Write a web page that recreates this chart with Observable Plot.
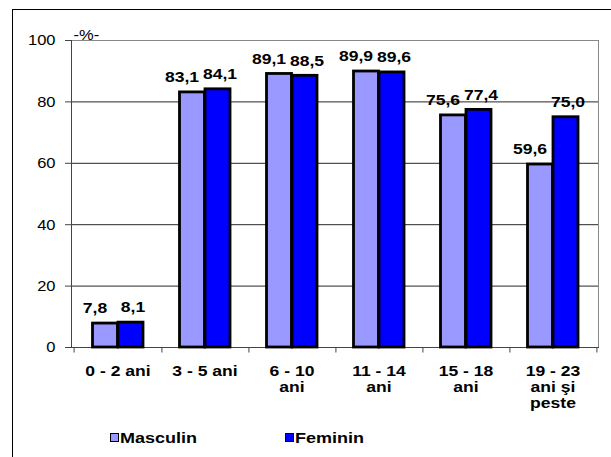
<!DOCTYPE html>
<html><head><meta charset="utf-8">
<script src="https://cdn.jsdelivr.net/npm/d3@7"></script>
<script src="https://cdn.jsdelivr.net/npm/@observablehq/plot@0.6"></script>
<style>
body{margin:0;background:#fff;font-family:"Liberation Sans",Arial,sans-serif;}
#wrap{position:relative;width:611px;height:457px;overflow:hidden;background:#fff;}
#border{position:absolute;left:12px;top:9px;width:640px;height:500px;border:1px solid #000;box-sizing:border-box;z-index:5;pointer-events:none;}
#chart{position:absolute;left:0;top:0;}
.leg{position:absolute;top:429px;font-weight:bold;font-size:15px;line-height:17px;transform:scaleX(1.2);transform-origin:left center;white-space:nowrap;}
.sw{position:absolute;top:433px;width:9px;height:9px;border:1px solid #000;box-sizing:border-box;}
</style></head>
<body>
<div id="wrap">
  <div id="chart"></div>
  <div class="sw" style="left:110px;background:#9999FF"></div>
  <div class="leg" style="left:120px">Masculin</div>
  <div class="sw" style="left:285px;background:#0000FF"></div>
  <div class="leg" style="left:295px">Feminin</div>
  <div id="border"></div>
</div>
<script>
const categories = ["0 - 2 ani", "3 - 5 ani", "6 - 10 ani", "11 - 14 ani", "15 - 18 ani", "19 - 23 ani şi peste"];
const tickLabels = ["0 - 2 ani", "3 - 5 ani", "6 - 10\nani", "11 - 14\nani", "15 - 18\nani", "19 - 23\nani şi\npeste"];
const masculin = [7.8, 83.1, 89.1, 89.9, 75.6, 59.6];
const feminin = [8.1, 84.1, 88.5, 89.6, 77.4, 75.0];
const yTicks = [0, 20, 40, 60, 80, 100];

const masData = categories.map((c, i) => ({cat: c, value: masculin[i]}));
const femData = categories.map((c, i) => ({cat: c, value: feminin[i]}));
const fmt = v => v.toFixed(1).replace(".", ",");

const W = 611, H = 420, ML = 71, MR = 13, MT = 40, MB = 73;
const bw = (W - ML - MR) / categories.length;

const chart = Plot.plot({
  width: W, height: H,
  marginLeft: ML, marginRight: MR, marginTop: MT, marginBottom: MB,
  style: {fontFamily: "'Liberation Sans', Arial, sans-serif", fontSize: "15px", color: "#000", background: "transparent"},
  x: {domain: categories, padding: 0, label: null},
  y: {domain: [0, 100], label: null},
  marks: [
    Plot.gridY([20, 40, 60, 80], {stroke: "#000", strokeOpacity: 0.85}),
    Plot.frame({stroke: "#888", strokeOpacity: 1}),
    Plot.frame({anchor: "left", stroke: "#444"}),
    Plot.frame({anchor: "bottom", stroke: "#444"}),
    Plot.ruleX(categories, {x: d => d, dx: bw / 2, y1: 0, y2: -1.8, stroke: "#444"}),
    Plot.ruleX(categories.slice(0, 1), {x: d => d, dx: -bw / 2, y1: 0, y2: -1.8, stroke: "#444"}),
    Plot.barY(masData, {x: "cat", y: "value", fill: "#9999FF", stroke: "#000", strokeWidth: 2.8, insetLeft: 18.5, insetRight: 43.5}),
    Plot.barY(femData, {x: "cat", y: "value", fill: "#0000FF", stroke: "#000", strokeWidth: 2.8, insetLeft: 44, insetRight: 18}),
    Plot.text(masData, {x: "cat", y: "value", text: d => fmt(d.value), dx: -23, dy: -15, lineAnchor: "middle", fontWeight: "bold", fontSize: 15}),
    Plot.text(femData, {x: "cat", y: "value", text: d => fmt(d.value), dx: 15, dy: -15, lineAnchor: "middle", fontWeight: "bold", fontSize: 15}),
    Plot.axisY({ticks: yTicks, tickSize: 6, tickPadding: 10, fontSize: 15, stroke: "#444", label: null}),
    Plot.axisX({tickSize: 0, tickPadding: 17, tickFormat: d => tickLabels[categories.indexOf(d)], fontSize: 15, fontWeight: "bold", lineHeight: 1.07, label: null}),
    Plot.text(["-%-"], {frameAnchor: "top-left", lineAnchor: "bottom", textAnchor: "start", dx: 2, dy: -1, fontSize: 15})
  ]
});
document.getElementById("chart").appendChild(chart);
chart.querySelectorAll("text").forEach(t => {
  const tr = t.getAttribute("transform") || "";
  const g = t.closest("g");
  const bold = (t.getAttribute("font-weight") === "bold") || (g && g.getAttribute("font-weight") === "bold");
  t.setAttribute("transform", tr + (bold ? " scale(1.17,1)" : " scale(1.1,1)"));
});
</script>
</body></html>
